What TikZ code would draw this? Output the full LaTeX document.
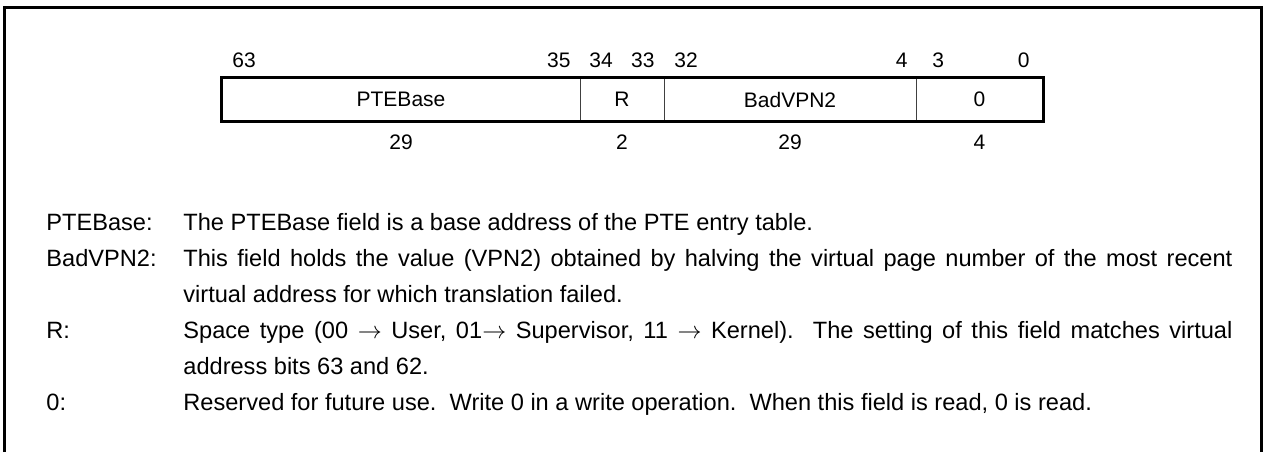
\documentclass[tikz,border=0pt]{standalone}
\usepackage{fontspec}
\setmainfont{Liberation Sans}
\frenchspacing
\newcommand\fullline[1]{\makebox[524.5pt][s]{#1}}
\begin{document}
\begin{tikzpicture}[
    x=0.5pt, y=-0.5pt,
    font=\fontsize{10.5}{12.5}\selectfont,
    field/.style={draw=black!75, line width=0.5pt, minimum height=21.5pt, inner sep=0pt},
    bitno/.style={inner sep=0pt},
    bitcount/.style={inner sep=0pt, anchor=base},
    term/.style={inner sep=0pt, anchor=base west, font=\fontsize{11.8}{18}\selectfont},
    desc/.style={inner sep=0pt, anchor=base west, font=\fontsize{11.8}{18}\selectfont},
]

% Page size
\useasboundingbox (0,0) rectangle (1264,452);

% Frame, open at the bottom
\draw[line width=1.5pt] (4,452) -- (4,7) -- (1261,7) -- (1261,452);

% Register fields
\node[field, minimum width=179pt] (pte) at (401,99.5) {PTEBase};
\node[field, minimum width=42pt] (r) at (622,99.5) {R};
\node[field, minimum width=126pt] (vpn) at (790,99.5) {BadVPN2};
\node[field, minimum width=63.5pt] (zero) at (979.5,99.5) {0};
\draw[line width=1.2pt] (pte.north west) rectangle (zero.south east);

% Bit numbers
\node[bitno, anchor=base west] (b63) at (232,67.5) {63};
\node[bitno, anchor=base east] (b35) at (571,67.5) {35};
\node[bitno, anchor=base west] (b34) at (589,67.5) {34};
\node[bitno, anchor=base east] (b33) at (655,67.5) {33};
\node[bitno, anchor=base west] (b32) at (674,67.5) {32};
\node[bitno, anchor=base east] (b4) at (908,67.5) {4};
\node[bitno, anchor=base west] (b3) at (932,67.5) {3};
\node[bitno, anchor=base east] (b0) at (1030,67.5) {0};

% Field widths
\node[bitcount] (n1) at (401,149.5) {29};
\node[bitcount] (n2) at (622,149.5) {2};
\node[bitcount] (n3) at (790,149.5) {29};
\node[bitcount] (n4) at (979.5,149.5) {4};

% Field descriptions
\node[term] (t1) at (46,230) {PTEBase:};
\node[desc] (d1) at (183,230) {The PTEBase field is a base address of the PTE entry table.};
\node[term] (t2) at (46,266) {BadVPN2:};
\node[desc] (d2) at (183,266) {\fullline{This field holds the value (VPN2) obtained by halving the virtual page number of the most recent}};
\node[desc] (d3) at (183,302) {virtual address for which translation failed.};
\node[term] (t3) at (46,338) {R:};
\node[desc] (d4) at (183,338) {\fullline{Space type (00 $\rightarrow$ User, 01$\rightarrow$ Supervisor, 11 $\rightarrow$ Kernel).~ The setting of this field matches virtual}};
\node[desc] (d5) at (183,374) {address bits 63 and 62.};
\node[term] (t4) at (46,410) {0:};
\node[desc] (d6) at (183,410) {Reserved for future use.~ Write 0 in a write operation.~ When this field is read, 0 is read.};

\end{tikzpicture}
\end{document}
